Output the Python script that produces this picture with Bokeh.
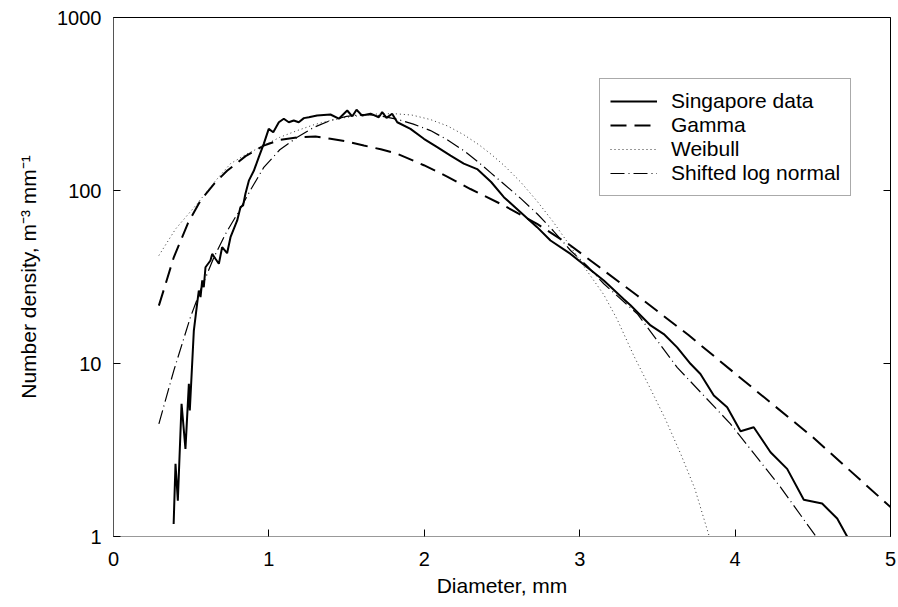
from bokeh.plotting import figure
from bokeh.models import Range1d, FixedTicker, NumeralTickFormatter, LogAxis
from bokeh.embed import file_html
from bokeh.resources import INLINE

FONT = "Liberation Sans"

# Singapore measured drop size distribution (diameter mm, number density)
data_d = [0.387, 0.399, 0.414, 0.438, 0.463, 0.485, 0.491, 0.517, 0.538, 0.549, 0.560, 0.571,
          0.581, 0.592, 0.624, 0.635, 0.656, 0.678, 0.699, 0.731, 0.753, 0.796, 0.817, 0.834,
          0.849, 0.871, 0.903, 0.935, 0.967, 0.999, 1.028, 1.064, 1.096, 1.128, 1.160, 1.192,
          1.225, 1.257, 1.310, 1.396, 1.450, 1.504, 1.536, 1.564, 1.600, 1.654, 1.707, 1.729,
          1.757, 1.793, 1.826, 1.911, 1.997, 2.083, 2.169, 2.254, 2.340, 2.430, 2.512, 2.726,
          2.812, 2.941, 3.155, 3.284, 3.327, 3.456, 3.541, 3.627, 3.713, 3.777, 3.863, 3.949,
          4.035, 4.120, 4.228, 4.335, 4.442, 4.560, 4.657, 4.721]
data_n = [1.18, 2.63, 1.61, 5.85, 3.21, 7.63, 5.35, 15.5, 22.1, 26.4, 24.2, 30.2,
          27.6, 36.0, 39.4, 43.0, 40.3, 37.7, 47.0, 43.4, 53.7, 67.1, 80.1, 81.9,
          95.7, 114, 130, 156, 186, 227, 217, 248, 260, 248, 254, 248,
          262, 265, 271, 275, 260, 290, 268, 293, 271, 278, 265, 284,
          263, 278, 248, 227, 199, 178, 159, 143, 133, 112, 91.5, 61.4,
          51.4, 43.0, 30.2, 23.5, 21.7, 16.6, 14.8, 12.4, 9.96, 8.7, 6.53, 5.59,
          4.06, 4.28, 3.07, 2.46, 1.63, 1.55, 1.27, 1.0]

# Gamma fit
gamma_d = [0.292, 0.388, 0.480, 0.560, 0.650, 0.731, 0.850, 0.967, 1.070, 1.182, 1.300, 1.396,
           1.500, 1.611, 1.720, 1.826, 1.997, 2.150, 2.297, 2.512, 2.726, 2.941, 3.155, 3.370,
           3.700, 4.000, 4.500, 5.000]
gamma_n = [21.6, 41.1, 65.0, 87.5, 110, 130, 158, 182, 196, 203, 205, 199,
           192, 182, 173, 163, 140, 120, 102, 81.9, 64.1, 48.1, 34.5, 24.7,
           14.6, 8.75, 3.75, 1.48]

# Weibull fit
weib_d = [0.292, 0.400, 0.538, 0.650, 0.753, 0.860, 0.967, 1.070, 1.182, 1.290, 1.396, 1.500,
          1.600, 1.700, 1.804, 1.920, 2.040, 2.150, 2.254, 2.351, 2.430, 2.512, 2.620, 2.726,
          2.830, 2.941, 3.050, 3.155, 3.241, 3.350, 3.450, 3.550, 3.650, 3.740, 3.831]
weib_n = [42.1, 60.0, 83.7, 112, 143, 163, 182, 203, 222, 240, 254, 265,
          272, 277, 278, 273, 257, 236, 210, 184, 162, 140, 112, 86.7,
          65.8, 47.4, 34.0, 25.0, 18.0, 11.0, 7.3, 4.8, 3.0, 1.9, 1.02]

# Shifted log normal fit
sln_d = [0.292, 0.388, 0.495, 0.570, 0.646, 0.720, 0.796, 0.880, 0.967, 1.070, 1.182, 1.290,
         1.396, 1.500, 1.600, 1.700, 1.826, 1.930, 2.040, 2.150, 2.254, 2.351, 2.430, 2.512,
         2.620, 2.726, 2.830, 2.941, 3.050, 3.155, 3.370, 3.627, 3.970, 4.292, 4.517]
sln_n = [4.48, 9.1, 18.5, 28.0, 41.0, 56.0, 73.0, 100, 136, 172, 203, 232,
         254, 268, 275, 272, 258, 242, 222, 196, 170, 145, 126, 109,
         90.0, 73.4, 58.5, 45.0, 36.5, 28.9, 19.4, 9.5, 4.48, 1.93, 1.01]

x_ticks = [0, 1, 2, 3, 4, 5]
y_ticks = [1, 10, 100, 1000]

p = figure(width=898, height=607, x_range=Range1d(0, 5), y_range=Range1d(1, 1000),
           y_axis_type="log", output_backend="svg", toolbar_location=None,
           min_border_left=113, min_border_right=8, min_border_top=17, min_border_bottom=71)
p.xgrid.visible = False
p.ygrid.visible = False
p.outline_line_color = "black"
p.outline_line_width = 1
p.background_fill_color = "white"
p.border_fill_color = "white"

p.line(data_d, data_n, line_color="black", line_width=2, legend_label="Singapore data")
p.line(gamma_d, gamma_n, line_color="black", line_width=2, line_dash="16 8", legend_label="Gamma")
p.line(weib_d, weib_n, line_color="#333333", line_width=1, line_dash="1 3", legend_label="Weibull")
p.line(sln_d, sln_n, line_color="black", line_width=1.2, line_dash="14 4 1 4",
       legend_label="Shifted log normal")

# axes
xa = p.xaxis[0]
xa.ticker = FixedTicker(ticks=x_ticks)
xa.axis_label = "Diameter, mm"
xa.axis_line_color = "#999999"
xa.major_tick_line_color = "black"

ya = p.yaxis[0]
ya.ticker = FixedTicker(ticks=y_ticks)
ya.formatter = NumeralTickFormatter(format="0")
ya.axis_label = "Number density, m\u207b\u00b3 mm\u207b\u00b9"
ya.axis_line_color = "#555555"
ya.major_tick_line_color = "black"

for ax in (xa, ya):
    ax.major_tick_in = 7
    ax.major_tick_out = 0
    ax.minor_tick_line_color = None
    ax.major_label_text_font = FONT
    ax.major_label_text_font_size = "20px"
    ax.major_label_text_color = "black"
    ax.axis_label_text_font = FONT
    ax.axis_label_text_font_size = "21px"
    ax.axis_label_text_font_style = "normal"
    ax.axis_label_text_color = "black"
xa.major_label_standoff = 15
xa.axis_label_standoff = 5
ya.major_label_standoff = 12
ya.axis_label_standoff = 14

# right-hand inward ticks at 10 and 100 (no labels)
ra = LogAxis(ticker=FixedTicker(ticks=[10, 100]),
             major_label_overrides={10: " ", 100: " "},
             major_label_text_font_size="2px", major_label_text_alpha=0,
             major_tick_in=7, major_tick_out=0, minor_tick_line_color=None,
             axis_line_color="black", major_label_standoff=0)
p.add_layout(ra, "right")

lg = p.legend[0]
lg.location = (486, 340)
lg.label_text_font = FONT
lg.label_text_font_size = "21px"
lg.label_text_color = "black"
lg.glyph_width = 47
lg.glyph_height = 22
lg.label_height = 22
lg.label_standoff = 14
lg.spacing = 0
lg.padding = 10
lg.margin = 0
lg.border_line_color = "#555555"
lg.border_line_width = 1
lg.background_fill_alpha = 1

open("out.html", "w").write(file_html(p, INLINE))
